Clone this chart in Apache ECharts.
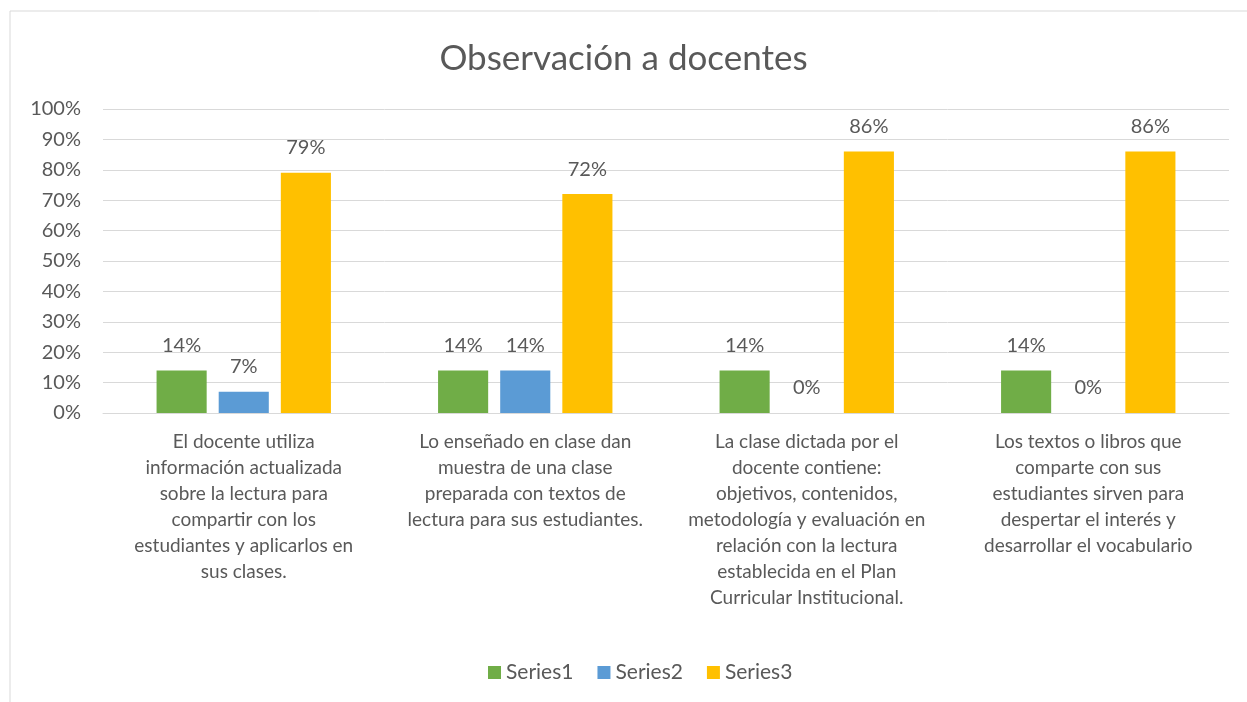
<!DOCTYPE html>
<html>
<head>
<meta charset="utf-8">
<script src="https://cdn.jsdelivr.net/npm/echarts@6/dist/echarts.min.js"></script>
<style>
    html, body { margin: 0; padding: 0; background: #fff; }
    #chart { width: 1247px; height: 702px; }
</style>
</head>
<body>
<div id="chart"></div>
<script>
// data
var categories = [
    'El docente utiliza\ninformación actualizada\nsobre la lectura para\ncompartir con los\nestudiantes y aplicarlos en\nsus clases.',
    'Lo enseñado en clase dan\nmuestra de una clase\npreparada con textos de\nlectura para sus estudiantes.',
    'La clase dictada por el\ndocente contiene:\nobjetivos, contenidos,\nmetodología y evaluación en\nrelación con la lectura\nestablecida en el Plan\nCurricular Institucional.',
    'Los textos o libros que\ncomparte con sus\nestudiantes sirven para\ndespertar el interés y\ndesarrollar el vocabulario'
];
var seriesNames = ['Series1', 'Series2', 'Series3'];
var series1 = [14, 14, 14, 14];
var series2 = [7, 14, 0, 0];
var series3 = [79, 72, 86, 86];
var seriesColors = ['#70AD47', '#5B9BD5', '#FFC000'];

var chart = echarts.init(document.getElementById('chart'));
var font = 'Lato, "Liberation Sans", sans-serif';
var textColor = '#595959';

function makeSeries(name, data, color) {
    return {
        name: name,
        type: 'bar',
        data: data,
        barWidth: '17.8%',
        barGap: '24%',
        itemStyle: { color: color },
        label: {
            show: true,
            position: 'top',
            distance: 15,
            formatter: '{c}%',
            color: textColor,
            fontSize: 20,
            fontFamily: font
        }
    };
}

chart.setOption({
    animation: false,
    textStyle: { fontFamily: font },
    title: {
        text: 'Observación a docentes',
        left: 'center',
        top: 36,
        textStyle: {
            color: textColor,
            fontSize: 35,
            fontWeight: 'normal',
            fontFamily: font
        }
    },
    graphic: [{
        type: 'rect',
        shape: { x: 10, y: 11, width: 1300, height: 800 },
        style: { fill: 'none', stroke: '#d9d9d9', lineWidth: 1 },
        silent: true
    }],
    legend: {
        bottom: 14,
        left: 483,
        itemWidth: 13,
        itemHeight: 13,
        itemGap: 24,
        icon: 'rect',
        textStyle: { color: textColor, fontSize: 21, fontFamily: font },
        data: seriesNames
    },
    grid: {
        left: 103,
        right: 18,
        top: 109,
        bottom: 289
    },
    xAxis: {
        type: 'category',
        data: categories,
        axisTick: { show: false },
        axisLine: { lineStyle: { color: '#d9d9d9', width: 1 } },
        axisLabel: {
            interval: 0,
            color: textColor,
            fontSize: 19,
            lineHeight: 26,
            margin: 16,
            fontFamily: font
        }
    },
    yAxis: {
        type: 'value',
        min: 0,
        max: 100,
        interval: 10,
        axisLine: { show: false },
        axisTick: { show: false },
        axisLabel: {
            formatter: '{value}%',
            color: textColor,
            fontSize: 20,
            margin: 22,
            fontFamily: font
        },
        splitLine: { lineStyle: { color: '#d9d9d9', width: 1 } }
    },
    series: [
        makeSeries(seriesNames[0], series1, seriesColors[0]),
        makeSeries(seriesNames[1], series2, seriesColors[1]),
        makeSeries(seriesNames[2], series3, seriesColors[2])
    ]
});
</script>
</body>
</html>
